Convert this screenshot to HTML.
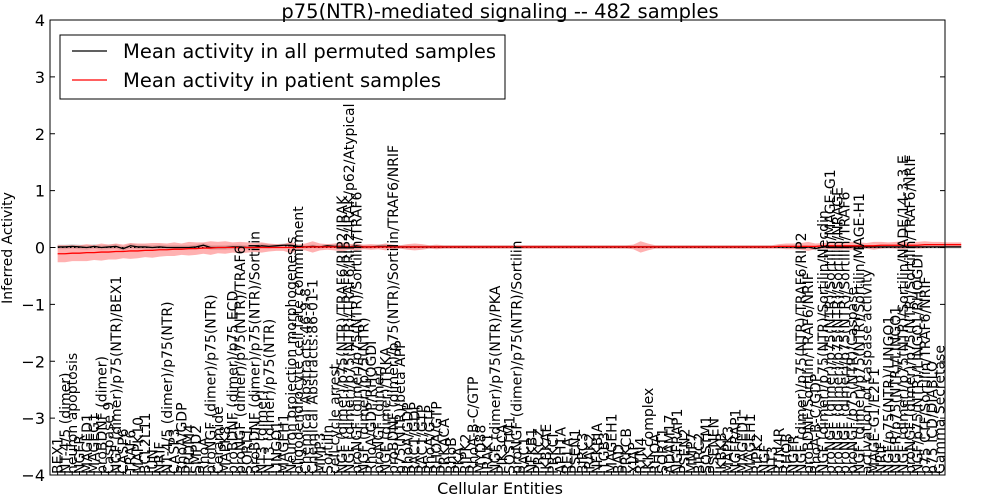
<!DOCTYPE html>
<html><head><meta charset="utf-8"><style>
body{margin:0;background:#fff;}
svg{display:block;font-family:"DejaVu Sans","Liberation Sans",sans-serif;}
</style></head><body>
<svg id="chart" width="1000" height="500" xmlns="http://www.w3.org/2000/svg">
<rect width="1000" height="500" fill="#fff"/>
<text x="500" y="18" text-anchor="middle" font-size="19.5">p75(NTR)-mediated signaling -- 482 samples</text>
<text x="0" y="0" transform="translate(12,248) rotate(-90)" text-anchor="middle" font-size="14">Inferred Activity</text>
<text x="500" y="494" text-anchor="middle" font-size="16">Cellular Entities</text>
<g id="plot"></g>
</svg>
<script>
const categories = ["BEX1","NT-4/5 (dimer)","neuron apoptosis","NGFR","MAGED1","MAGEG1","proBDNF (dimer)","Caspase 9","NGF (dimer)/p75(NTR)/BEX1","CASP6","TRAF6","MAPK10","BCL2L11","JUN","NRIF","NT-4/5 (dimer)/p75(NTR)","CASP3","RhoA/GDP","PRDM4","SMPD2","RhoA","proNGF (dimer)/p75(NTR)","Ceramide","MAPK8","proBDNF (dimer)/p75 ECD","proNGF (dimer)/p75(NTR)/TRAF6","SORT1","proBDNF (dimer)/p75(NTR)/Sortilin","NT3 (dimer)","NT3 (dimer)/p75(NTR)","LINGO1","MAGEH1","Neuron projection morphogenesis","oligodendrocyte cell fate commitment","Chemical Abstracts:46-9-8","Chemical Abstracts:86-01-1","MMP3","Sortilin","cell cycle arrest","NGF (dimer)/p75(NTR)/TRAF6/RIP2/IRAK","NGF (dimer)/p75(NTR)/TRAF6/RIP2/IRAK/p62/Atypical","proNGF (dimer)/p75(NTR)/Sortilin/TRAF6","NGF (dimer)/p75(NTR)","RhoA/GDP/RHOGDI","proNGF (dimer)","NGF (dimer)/TRKA","proBDNF (dimer)/p75(NTR)/Sortilin/TRAF6/NRIF","p75(NTR)/beta APP","RhoA/GDP","RAC1/GDP","RAC1/GTP","RhoA/GTP","RHOA/GTP","PRKACA","RhoB","PKA","RIPK2","RhoA-B-C/GTP","MYD88","IRAK1","NGF (dimer)/p75(NTR)/PKA","PIK3CA","SQSTM1","proNGF (dimer)/p75(NTR)/Sortilin","RAC1","NFKB1","PRKCZ","IKBKAE","PRKCI","APH1A","RELA","PSEN1","BIRC3","IRAK2","NFKBIA","ITGB3","MAGEH1","BAD","PRKCB","XIAP","RTN4","IKK complex","RHOA","SORT1","ADAM17","NGFRAP1","PSEN2","MMP7","BIRC2","SQSTM1","PSENEN","IKBKB","MAPK3","NGFRAP1","MAGED1","MAGEH1","RIPK2","NGF","NT3","RTN4R","RHOB","NGFR","NGF (dimer)/p75(NTR)/TRAF6/RIP2","proBDNF/Sortilin/TRAF6/NRIF","RhoA-B-C/GDP","NGF (dimer)/p75(NTR)/Sortilin/Necdin","proNGF (dimer)/p75(NTR)/Sortilin/MAGE-G1","proNGF (dimer)/p75(NTR)/Sortilin/NRAGE","proNGF (dimer)/p75(NTR)/Sortilin/TRAF6","proNGF/p75(NTR)/Caspase","NGF (dimer)/p75(NTR)/Sortilin/MAGE-H1","activation of caspase activity","MAGE-G1/E2F1","NRIF","NGF/p75(NTR)/LINGO1","NGFR/p75(NTR)/LINGO1","NGF (dimer)/p75(NTR)/Sortilin/NADE/14-3-3 E","proNGF (dimer)/p75(NTR)/Sortilin/TRAF6/NRIF","NGF/p75(NTR)/LINGO1/RHOGDI","p75 CTF/Sortilin/TRAF6/NRIF","p75 ICD/DIABLO","Gamma Secretase"];
const patientMean = [-0.11,-0.11,-0.1,-0.1,-0.09,-0.09,-0.08,-0.08,-0.07,-0.07,-0.06,-0.06,-0.05,-0.05,-0.04,-0.04,-0.03,-0.03,-0.02,-0.02,-0.01,-0.01,0,0,0,0,0,0,0,0,0,0,0,0,0.01,0.01,0.01,0.01,0.01,0.01,0.01,0.01,0.01,0.01,0.01,0.01,0.01,0.01,0.01,0.01,0.01,0.01,0.01,0.01,0.01,0.01,0.01,0.01,0.01,0.01,0.01,0.01,0.01,0.01,0.01,0.01,0.01,0.01,0.01,0.01,0.01,0.01,0.01,0.01,0.01,0.01,0.01,0.01,0.01,0.01,0.01,0.01,0.01,0.01,0.01,0.01,0.01,0.01,0.01,0.01,0.01,0.01,0.01,0.01,0.01,0.01,0.01,0.01,0.01,0.02,0.02,0.02,0.02,0.02,0.02,0.03,0.03,0.03,0.03,0.03,0.03,0.03,0.03,0.04,0.04,0.04,0.04,0.04,0.04,0.05,0.05,0.05,0.05,0.05,0.05];
const patientBand = [0.15,0.15,0.14,0.14,0.15,0.13,0.15,0.13,0.14,0.12,0.14,0.13,0.12,0.13,0.12,0.11,0.12,0.1,0.12,0.11,0.1,0.12,0.1,0.11,0.09,0.1,0.09,0.08,0.09,0.07,0.06,0.06,0.1,0.05,0.06,0.1,0.06,0.05,0.06,0.08,0.05,0.06,0.04,0.05,0.04,0.06,0.04,0.03,0.05,0.06,0.05,0.03,0.04,0.03,0.03,0.03,0.03,0.03,0.03,0.03,0.03,0.03,0.03,0.03,0.03,0.03,0.03,0.03,0.03,0.03,0.03,0.03,0.03,0.03,0.03,0.03,0.03,0.03,0.03,0.04,0.1,0.06,0.03,0.03,0.03,0.03,0.03,0.03,0.03,0.03,0.03,0.03,0.03,0.03,0.03,0.03,0.03,0.03,0.03,0.04,0.05,0.05,0.06,0.08,0.05,0.05,0.06,0.07,0.06,0.07,0.06,0.05,0.07,0.06,0.05,0.06,0.07,0.05,0.06,0.06,0.05,0.05,0.04,0.04,0.04];
const permMean = [0.01,0.01,0.02,0.01,0,0.02,0,0.01,0.02,-0.02,0.03,0.01,0.01,0,0.01,0,0,0,0,0.01,0.04,0,0,0,0.01,0.01,0,0,0.03,0.02,0.03,0.04,0.04,0.02,0.01,0.02,0.01,0.03,0.02,0.02,0.01,0.03,0.01,0.01,0.02,0.02,0.01,0.01,0.01,0.01,0.01,0.01,0.01,0.01,0.01,0.01,0.01,0.01,0.01,0.01,0.01,0.01,0.01,0.01,0.01,0.01,0.01,0.01,0.01,0.01,0.01,0.01,0.01,0.01,0.01,0.01,0.01,0.01,0.01,0.01,0.01,0.01,0.01,0.01,0.01,0.01,0.01,0.01,0.01,0.01,0.01,0.01,0.01,0.01,0.01,0.01,0.01,0.01,0.01,0.01,0.01,0.01,0.01,0.01,-0.02,0.01,0.01,0.01,0.01,0.01,0.01,0.01,0.01,0.01,0.01,0.01,0.01,0.01,0.01,0.01,0.01,0.01,0.01,0.01,0.01];
const permBand = [0.04,0.04,0.04,0.04,0.04,0.04,0.04,0.04,0.04,0.04,0.04,0.04,0.04,0.04,0.04,0.04,0.04,0.04,0.04,0.04,0.04,0.04,0.04,0.04,0.04,0.04,0.04,0.04,0.04,0.04,0.03,0.03,0.03,0.03,0.03,0.03,0.03,0.03,0.03,0.03,0.03,0.03,0.03,0.03,0.03,0.03,0.03,0.03,0.03,0.03,0.03,0.03,0.03,0.03,0.03,0.03,0.03,0.03,0.03,0.03,0.03,0.03,0.03,0.03,0.03,0.03,0.03,0.03,0.03,0.03,0.03,0.03,0.03,0.03,0.03,0.03,0.03,0.03,0.03,0.03,0.03,0.03,0.03,0.03,0.03,0.03,0.03,0.03,0.03,0.03,0.03,0.03,0.03,0.03,0.03,0.03,0.03,0.03,0.03,0.03,0.03,0.03,0.03,0.03,0.03,0.03,0.03,0.03,0.03,0.03,0.03,0.03,0.03,0.03,0.03,0.03,0.03,0.03,0.03,0.03,0.03,0.03,0.03,0.03,0.03];
const yTicks = [-4,-3,-2,-1,0,1,2,3,4];

const NS = "http://www.w3.org/2000/svg";
const L = 50, R = 945, T = 20, B = 475;
const n = categories.length;
const pitch = (R - L - 6) / n;
const xs = i => L + 4 + (i + 0.5) * pitch;
const ys = v => B - (v + 4) / 8 * (B - T);
const g = document.getElementById('plot');
function mk(tag, attrs) { const e = document.createElementNS(NS, tag); for (const k in attrs) e.setAttribute(k, attrs[k]); g.appendChild(e); return e; }

function band(mean, half, fill, name) {
  let d = '';
  mean.forEach((m, i) => { d += (i ? 'L' : 'M') + xs(i) + ',' + ys(m + half[i]); });
  for (let i = mean.length - 1; i >= 0; i--) d += 'L' + xs(i) + ',' + ys(mean[i] - half[i]);
  const p = mk('path', { d: d + 'Z', fill: fill, stroke: 'none' });
  
  
}
function line(mean, color, name) {
  const p = mk('polyline', { points: mean.map((m, i) => xs(i) + ',' + ys(m)).join(' '), fill: 'none', stroke: color, 'stroke-width': 1.3 });
  
  
}
band(permMean, permBand, 'rgba(150,150,150,0.35)', 'permuted-band');
band(patientMean, patientBand, 'rgba(255,60,60,0.4)', 'patient-band');
const zl = mk('line', { x1: L, x2: R, y1: ys(0), y2: ys(0), stroke: '#000', 'stroke-dasharray': '1.5,2.5', 'stroke-width': 1 });


line(permMean, '#000', 'permuted-mean-line');
line(patientMean, '#f00', 'patient-mean-line');

categories.forEach((c, i) => {
  const x = xs(i);
  const tk = mk('line', { x1: x, x2: x, y1: B, y2: B - 4, stroke: '#000' });
  
  
  const t = mk('text', { transform: 'translate(' + (x + 5) + ',' + (B - 1) + ') rotate(-90)', 'font-size': 14 });
  t.textContent = c;
  
  
});
yTicks.forEach(v => {
  const y = ys(v);
  const a = mk('line', { x1: L, x2: L + 5, y1: y, y2: y, stroke: '#000' });
  
  
  const b = mk('line', { x1: R - 5, x2: R, y1: y, y2: y, stroke: '#000' });
  
  
  const t = mk('text', { x: L - 5, y: y + 6, 'text-anchor': 'end', 'font-size': 16 });
  t.textContent = (v < 0 ? '\u2212' : '') + Math.abs(v);
  
  
});
const frame = mk('rect', { x: L, y: T, width: R - L, height: B - T, fill: 'none', stroke: '#000', 'stroke-width': 1 });



const lg = mk('rect', { x: 60, y: 35, width: 445, height: 64, fill: '#fff', stroke: '#000' });


[['Mean activity in all permuted samples', '#000', 51], ['Mean activity in patient samples', '#f00', 80]].forEach(([s, c, y]) => {
  const l = mk('line', { x1: 72, x2: 107, y1: y, y2: y, stroke: c, 'stroke-width': 1.3 });
  
  
  const t = mk('text', { x: 123, y: y + 7, 'font-size': 19.5 });
  t.textContent = s;
  
  
});
</script>
</body></html>
